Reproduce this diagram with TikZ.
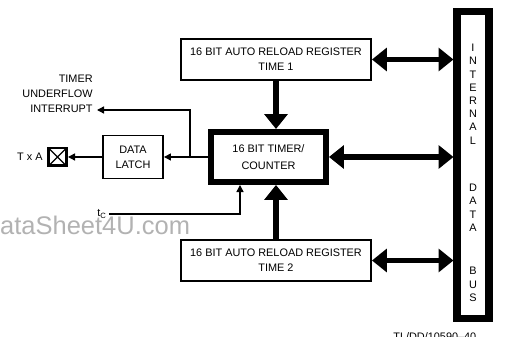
\documentclass[tikz,border=0pt]{standalone}
\usepackage{fontspec}
\setmainfont{Liberation Sans}
\usetikzlibrary{arrows.meta, positioning, calc}

\begin{document}
\begin{tikzpicture}[x=0.02cm, y=-0.02cm,
  every node/.style={font=\fontsize{6.2}{8.5}\selectfont},
  regbox/.style={draw, line width=1.1pt, minimum width=3.8cm, minimum height=0.82cm,
    align=center, inner sep=0pt},
  timerbox/.style={draw, line width=3.4pt, minimum width=2.3cm, minimum height=1.0cm,
    align=center, inner sep=0pt, font=\fontsize{6.2}{10}\selectfont},
  latchbox/.style={draw, line width=1.1pt, minimum width=1.2cm, minimum height=0.86cm,
    align=center, inner sep=0pt},
  busbox/.style={draw, line width=4pt, minimum width=0.64cm, minimum height=6.14cm},
  pinbox/.style={draw, line width=1.7pt, minimum size=0.36cm, inner sep=0pt,
    path picture={\draw[line width=0.8pt]
      (path picture bounding box.north west) -- (path picture bounding box.south east)
      (path picture bounding box.south west) -- (path picture bounding box.north east);}},
  bigboth/.style={line width=3.4pt,
    {Triangle[length=8.5pt,width=13pt]}-{Triangle[length=8.5pt,width=13pt]}},
  bigarrow/.style={line width=3.4pt, -{Triangle[length=8.5pt,width=13pt]}},
  sig/.style={line width=0.75pt, -{Triangle[length=4pt,width=4pt]}},
]
  \useasboundingbox (0,0) rectangle (505,337);
  % watermark and figure number (both cut by the page edge)
  \node[anchor=base west, inner sep=0pt, text=black!30, font=\fontsize{14.5}{14.5}\selectfont]
    (wm) at (-18.5,235) {DataSheet4U.com};
  \node[anchor=north west, inner sep=0pt] (fig) at (393,332.5) {TL/DD/10590--40};
  % blocks
  \node[regbox] (reg1) at (276,59.5) {16 BIT AUTO RELOAD REGISTER\\TIME 1};
  \node[regbox] (reg2) at (276,260.5) {16 BIT AUTO RELOAD REGISTER\\TIME 2};
  \node[timerbox] (timer) at (268.5,157) {16 BIT TIMER/\\COUNTER};
  \node[latchbox] (latch) at (133,157) {DATA\\LATCH};
  \node[pinbox] (txa) at (57.5,157) {};
  \node[left=0.08cm of txa, inner sep=0pt] (txalab) {T x A};
  \node[busbox] (bus) at (473,165) {};
  % bus lettering
  \foreach \ch [count=\i] in {I,N,T,E,R,N,A,L}
    \node (in\i) at (473,{48+13.2*(\i-1)}) {\ch};
  \foreach \ch [count=\i] in {D,A,T,A}
    \node (da\i) at (473,{188+13.2*(\i-1)}) {\ch};
  \foreach \ch [count=\i] in {B,U,S}
    \node (bu\i) at (473,{271+13.5*(\i-1)}) {\ch};
  % wide data paths
  \draw[bigboth] (reg1.east) -- (reg1.east -| bus.west);
  \draw[bigboth] (timer.east) -- (timer.east -| bus.west);
  \draw[bigboth] (reg2.east) -- (reg2.east -| bus.west);
  \draw[bigarrow] (reg1.south) -- (reg1.south |- timer.north);
  \draw[bigarrow] (reg2.north) -- (reg2.north |- timer.south);
  % underflow output
  \node[anchor=east, align=right, inner sep=0pt] (irq) at (93,93.5)
    {TIMER\\UNDERFLOW\\INTERRUPT};
  \coordinate (irqtip) at (97,110);
  \coordinate (br) at (190,157);
  \draw[sig] (timer.west) -- (latch.east);
  \draw[sig] (br) |- (irqtip);
  \draw[sig] (latch.west) -- (txa.east);
  % clock input
  \node[inner sep=1pt] (tc) at (102,214) {t\textsubscript{C}};
  \draw[sig] (tc.east) -| ($(timer.south)+(-28.5,0)$);
\end{tikzpicture}
\end{document}
